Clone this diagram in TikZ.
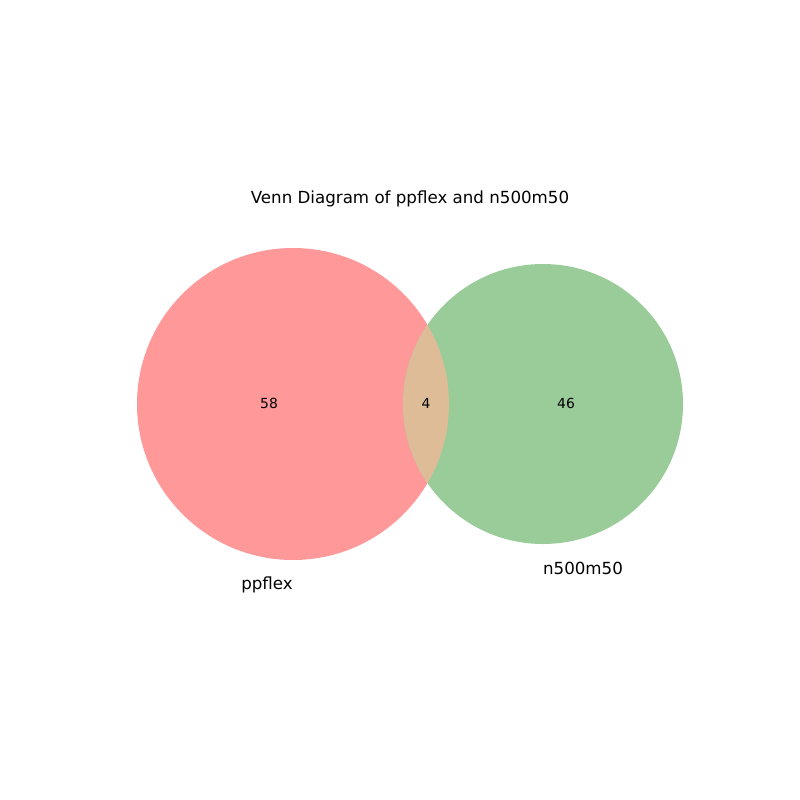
\documentclass[tikz,border=0pt]{standalone}
\usepackage{fontspec}
\setmainfont{DejaVu Sans}
\definecolor{setA}{RGB}{255,153,153}
\definecolor{setB}{RGB}{153,204,153}
\definecolor{setAB}{RGB}{223,188,152}
\tikzset{
  titletext/.style={font=\fontsize{12}{14}\selectfont, text=black},
  setlabel/.style={font=\fontsize{12}{14}\selectfont, text=black},
  countlabel/.style={font=\fontsize{10}{12}\selectfont, text=black},
}
\begin{document}
\begin{tikzpicture}[x=0.72pt,y=-0.72pt]
\useasboundingbox[fill=white] (0,0) rectangle (800,800);
\fill[setA] (293,404) circle[radius=156];
\fill[setB] (543,404) circle[radius=140];
\begin{scope}
  \clip (293,404) circle[radius=156];
  \fill[setAB] (543,404) circle[radius=140];
\end{scope}
\node[titletext] (title) at (410,199) {Venn Diagram of ppflex and n500m50};
\node[countlabel] (cA) at (269,403) {58};
\node[countlabel] (cAB) at (426,403) {4};
\node[countlabel] (cB) at (566,403) {46};
\node[setlabel] (lA) at (267,585) {ppflex};
\node[setlabel] (lB) at (583,568) {n500m50};
\end{tikzpicture}
\end{document}
